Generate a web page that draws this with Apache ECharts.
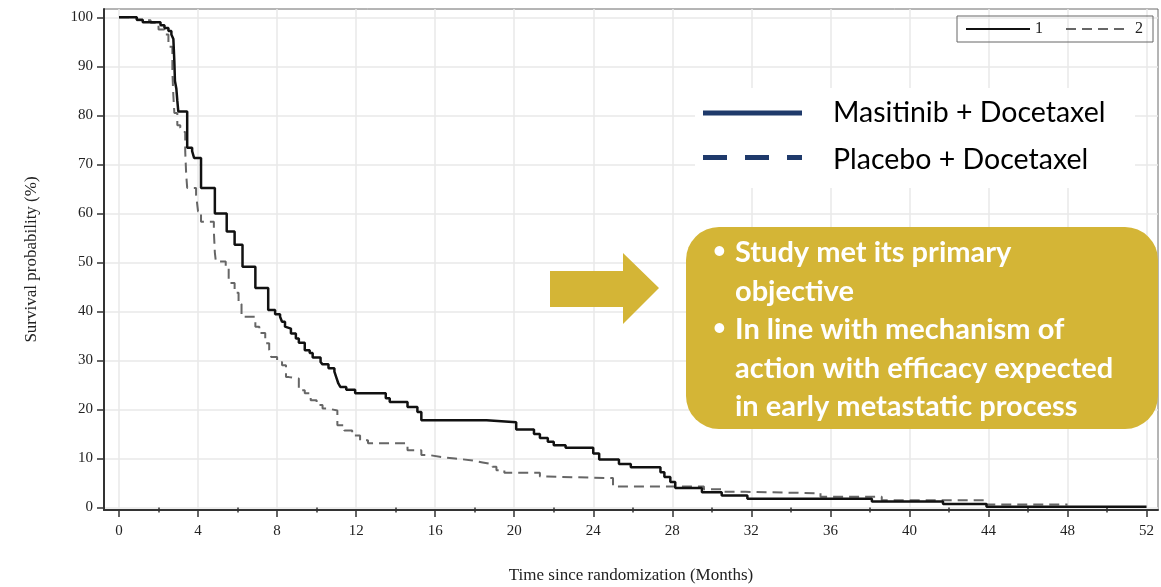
<!DOCTYPE html>
<html>
<head>
<meta charset="utf-8">
<script src="https://cdn.jsdelivr.net/npm/echarts@6/dist/echarts.min.js"></script>
<style>
  html, body { margin: 0; padding: 0; background: #fff; }
  #chart { width: 1161px; height: 587px; }
</style>
</head>
<body>
<div id="chart"></div>
<script>
// Kaplan-Meier step points: time since randomization (months) and survival probability (%)
const masitinibTime = [0, 0.9, 1.2, 2.1, 2.3, 2.5, 2.65, 2.75, 2.8, 2.83, 2.9, 2.95, 3.0, 3.45, 3.7, 3.8, 4.15, 4.85, 5.45, 5.85, 6.25, 6.9, 7.55, 7.9, 8.15, 8.25, 8.4, 8.45, 8.7, 8.95, 9.1, 9.4, 9.65, 9.8, 10.2, 10.3, 10.6, 10.9, 11.0, 11.1, 11.2, 11.5, 11.95, 13.5, 13.7, 14.6, 15.1, 15.3, 18.6, 20.1, 21.0, 21.3, 21.7, 22.0, 22.6, 24.0, 24.3, 25.3, 25.9, 27.4, 27.6, 27.9, 28.15, 29.5, 30.5, 31.8, 38.1, 41.7, 43.9, 52.0];
const masitinibSurv = [100, 99.5, 99.0, 98.4, 97.8, 97.2, 96.5, 95.6, 91.0, 87.0, 85.5, 83.0, 80.8, 73.4, 72.7, 71.3, 65.2, 60.0, 56.3, 53.6, 49.1, 44.8, 40.3, 39.4, 38.9, 37.9, 36.9, 36.5, 35.5, 34.5, 33.6, 32.1, 31.5, 30.6, 29.7, 29.2, 28.4, 27.7, 26.5, 25.3, 24.6, 24.0, 23.3, 22.3, 21.5, 20.5, 19.5, 17.8, 17.4, 15.9, 15.0, 14.2, 13.4, 12.7, 12.2, 11.0, 9.8, 8.9, 8.2, 7.2, 6.2, 5.2, 4.0, 3.1, 2.45, 1.8, 1.2, 0.7, 0.15, 0.15];

const placeboTime = [0, 0.9, 1.6, 2.0, 2.3, 2.5, 2.7, 2.75, 2.8, 2.95, 3.1, 3.2, 3.35, 3.4, 3.45, 3.9, 4.0, 4.15, 4.8, 4.85, 4.9, 5.4, 5.55, 5.85, 6.05, 6.2, 6.9, 7.1, 7.4, 7.6, 7.7, 8.0, 8.25, 8.45, 8.6, 9.1, 9.4, 9.7, 10.0, 10.3, 10.55, 11.05, 11.4, 11.8, 12.2, 12.6, 14.6, 15.3, 15.7, 16.3, 17.0, 17.9, 18.4, 18.9, 19.1, 19.5, 21.3, 21.7, 25.0, 29.6, 30.6, 31.7, 35.5, 38.6, 43.9, 48.0];
const placeboSurv = [100, 99.4, 98.9, 97.5, 96.5, 94.0, 89.0, 84.0, 80.5, 78.0, 77.5, 76.6, 72.7, 67.9, 65.2, 63.8, 60.4, 58.3, 56.3, 52.0, 50.2, 49.0, 45.8, 43.8, 41.5, 38.9, 36.9, 35.6, 33.5, 32.1, 30.7, 29.7, 29.0, 26.6, 26.3, 23.9, 23.3, 21.9, 20.9, 20.2, 19.8, 16.8, 15.7, 14.7, 13.7, 13.1, 11.7, 10.7, 10.3, 10.0, 9.6, 9.2, 8.8, 8.3, 7.6, 7.1, 6.3, 6.0, 4.3, 3.7, 3.2, 2.9, 2.2, 1.5, 0.6, 0.6];

// Axis tick values
const xTickValues = [0, 4, 8, 12, 16, 20, 24, 28, 32, 36, 40, 44, 48, 52];
const xMinorTickValues = [2, 6, 10, 14, 18, 22, 26, 30, 34, 38, 42, 46, 50];
const yTickValues = [0, 10, 20, 30, 40, 50, 60, 70, 80, 90, 100];

// Labels
const seriesNames = ['1', '2'];
const xAxisTitle = 'Time since randomization (Months)';
const yAxisTitle = 'Survival probability (%)';
const armNames = ['Masitinib + Docetaxel', 'Placebo + Docetaxel'];
const calloutText = [
  'Study met its primary',
  'objective',
  'In line with mechanism of',
  'action with efficacy expected',
  'in early metastatic process'
];
const bulletLines = [0, 2];

const toPairs = (t, s) => t.map((v, i) => [v, s[i]]);

const serif = '"Liberation Serif", "DejaVu Serif", serif';
const gold = '#d4b536';
const navy = '#1f3a6b';

const chart = echarts.init(document.getElementById('chart'), null, { renderer: 'canvas' });

const xRange = { min: -0.76, max: 52.58 };
const yRange = { min: -0.51, max: 101.7 };

const calloutGraphics = [];
calloutText.forEach((line, i) => {
  calloutGraphics.push({
    type: 'text', z: 110, x: 735, y: 253 + i * 38.5,
    style: { text: line, font: 'bold 29px Lato', fill: '#ffffff', textVerticalAlign: 'middle' }
  });
});
bulletLines.forEach(i => {
  calloutGraphics.push({
    type: 'text', z: 110, x: 713, y: 251 + i * 38.5,
    style: { text: '\u2022', font: 'bold 22px Lato', fill: '#ffffff', textVerticalAlign: 'middle' }
  });
});

const option = {
  backgroundColor: '#ffffff',
  animation: false,
  grid: {
    left: 104, right: 3, top: 9, bottom: 77,
    outerBoundsMode: 'none',
    show: true, borderColor: '#6a6a6a', borderWidth: 1, backgroundColor: 'transparent'
  },
  legend: {
    right: 8, top: 16,
    data: seriesNames,
    borderColor: '#666', borderWidth: 1,
    padding: [5, 10, 5, 8],
    itemWidth: 64, itemHeight: 2, itemGap: 22,
    itemStyle: { opacity: 0 },
    textStyle: { fontFamily: serif, fontSize: 16, color: '#222' }
  },
  xAxis: [
    {
      type: 'value', min: xRange.min, max: xRange.max,
      name: xAxisTitle, nameLocation: 'middle', nameGap: 57,
      nameTextStyle: { fontFamily: serif, fontSize: 17, color: '#222' },
      axisLine: { show: true, onZero: false, lineStyle: { color: '#333', width: 2 } },
      axisTick: { show: true, customValues: xTickValues, length: 7, lineStyle: { color: '#333', width: 1.5 } },
      axisLabel: { customValues: xTickValues, margin: 14, fontFamily: serif, fontSize: 15, color: '#222' },
      splitLine: { show: true, lineStyle: { color: '#e8e8e8', width: 1.5 } }
    },
    {
      type: 'value', min: xRange.min, max: xRange.max, position: 'bottom',
      axisLine: { show: false },
      axisTick: { show: true, customValues: xMinorTickValues, length: 5, lineStyle: { color: '#333', width: 1.5 } },
      axisLabel: { show: false },
      splitLine: { show: false }
    }
  ],
  yAxis: {
    type: 'value', min: yRange.min, max: yRange.max,
    name: yAxisTitle, nameLocation: 'middle', nameGap: 64, nameRotate: 90,
    nameTextStyle: { fontFamily: serif, fontSize: 17, color: '#222' },
    axisLine: { show: true, onZero: false, lineStyle: { color: '#333', width: 2 } },
    axisTick: { show: true, customValues: yTickValues, length: 7, lineStyle: { color: '#333', width: 1.5 } },
    axisLabel: { customValues: yTickValues, margin: 11, fontFamily: serif, fontSize: 15, color: '#222' },
    splitLine: { show: true, lineStyle: { color: '#e8e8e8', width: 1.5 } }
  },
  series: [
    {
      name: seriesNames[0], type: 'line', step: 'end', symbol: 'none',
      data: toPairs(masitinibTime, masitinibSurv),
      lineStyle: { color: '#111', width: 2.5, type: 'solid' },
      itemStyle: { color: '#111' },
      z: 3
    },
    {
      name: seriesNames[1], type: 'line', step: 'end', symbol: 'none',
      data: toPairs(placeboTime, placeboSurv),
      lineStyle: { color: '#666', width: 2, type: [10, 6] },
      itemStyle: { color: '#666' },
      z: 2
    }
  ],
  graphic: [
    // overlay arm key
    { type: 'rect', z: 100, shape: { x: 695, y: 88, width: 440, height: 100 }, style: { fill: '#ffffff' } },
    { type: 'line', z: 101, shape: { x1: 703, y1: 113, x2: 802, y2: 113 }, style: { stroke: navy, lineWidth: 5 } },
    { type: 'line', z: 101, shape: { x1: 703, y1: 157.5, x2: 802, y2: 157.5 }, style: { stroke: navy, lineWidth: 5, lineDash: [24, 18] } },
    { type: 'text', z: 101, x: 833, y: 113, style: { text: armNames[0], font: '28.5px Lato', fill: '#000', textVerticalAlign: 'middle' } },
    { type: 'text', z: 101, x: 833, y: 160, style: { text: armNames[1], font: '28.5px Lato', fill: '#000', textVerticalAlign: 'middle' } },
    // arrow
    { type: 'polygon', z: 100, shape: { points: [[550, 271], [623, 271], [623, 253], [659, 288], [623, 324], [623, 307], [550, 307]] }, style: { fill: gold } },
    // callout box
    { type: 'rect', z: 100, shape: { x: 686, y: 227, width: 472, height: 202, r: 33 }, style: { fill: gold } }
  ].concat(calloutGraphics)
};

chart.setOption(option);
</script>
</body>
</html>
